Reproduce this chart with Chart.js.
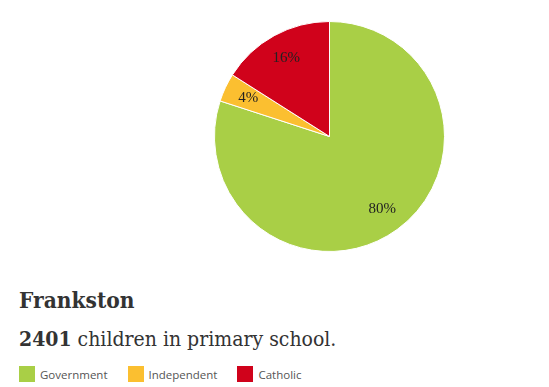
<!DOCTYPE html>
<html>
<head>
<meta charset="utf-8">
<script src="https://cdn.jsdelivr.net/npm/chart.js@4"></script>
<style>
	body { margin: 0; background: #fff; width: 549px; height: 387px; position: relative; overflow: hidden; }
	#wrap { position: absolute; left: 214px; top: 21px; width: 231px; height: 231px; }
	#title { position: absolute; left: 19px; top: 287px; font: bold 22.5px "DejaVu Serif", serif; font-stretch: condensed; color: #333; margin: 0; }
	#sub { position: absolute; left: 19px; top: 326px; font: 21px "DejaVu Serif", serif; font-stretch: condensed; color: #333; margin: 0; }
	#legend { position: absolute; left: 19px; top: 366px; display: flex; font: 11.5px "Open Sans", sans-serif; color: #555; }
	.item { display: flex; align-items: center; margin-right: 20px; }
	.box { width: 16px; height: 16px; margin-right: 5px; }
</style>
</head>
<body>
<div id="wrap"><canvas id="chart"></canvas></div>
<p id="title"></p>
<p id="sub"></p>
<div id="legend"></div>
<script>
const region = "Frankston";
const totalChildren = 2401;
const categories = ["Government", "Independent", "Catholic"];
const shares = [80, 4, 16];
const colours = ["#a9cf46", "#fbbf30", "#d0021b"];

document.getElementById("title").textContent = region;
document.getElementById("sub").innerHTML = "<b>" + totalChildren + "</b> children in primary school.";

let legendDiv = document.getElementById("legend");
categories.forEach((cat, i) => {
	let item = document.createElement("div");
	item.className = "item";
	let box = document.createElement("span");
	box.className = "box";
	box.style.background = colours[i];
	let txt = document.createElement("span");
	txt.textContent = cat;
	item.appendChild(box);
	item.appendChild(txt);
	legendDiv.appendChild(item);
});

// percent labels inside slices
const sliceLabels = {
	id: "sliceLabels",
	afterDatasetsDraw(chart) {
		let ctx = chart.ctx;
		let meta = chart.getDatasetMeta(0);
		ctx.save();
		ctx.font = "15px 'Liberation Serif', serif";
		ctx.fillStyle = "#222";
		ctx.textAlign = "center";
		ctx.textBaseline = "middle";
		meta.data.forEach((arc, i) => {
			let p = arc.getProps(["x", "y", "startAngle", "endAngle", "outerRadius"], true);
			let a = (p.startAngle + p.endAngle) / 2;
			let r = p.outerRadius * 0.78;
			ctx.fillText(shares[i] + "%", p.x + Math.cos(a) * r, p.y + Math.sin(a) * r);
		});
		ctx.restore();
	},
};

const chart = new Chart(document.getElementById("chart"), {
	type: "pie",
	data: {
		labels: categories,
		datasets: [
			{
				data: shares,
				backgroundColor: colours,
				borderColor: "#fff",
				borderWidth: 1,
			},
		],
	},
	options: {
		responsive: true,
		maintainAspectRatio: false,
		animation: false,
		layout: { padding: 0 },
		plugins: {
			legend: { display: false },
			tooltip: { enabled: false },
		},
	},
	plugins: [sliceLabels],
});
</script>
</body>
</html>
